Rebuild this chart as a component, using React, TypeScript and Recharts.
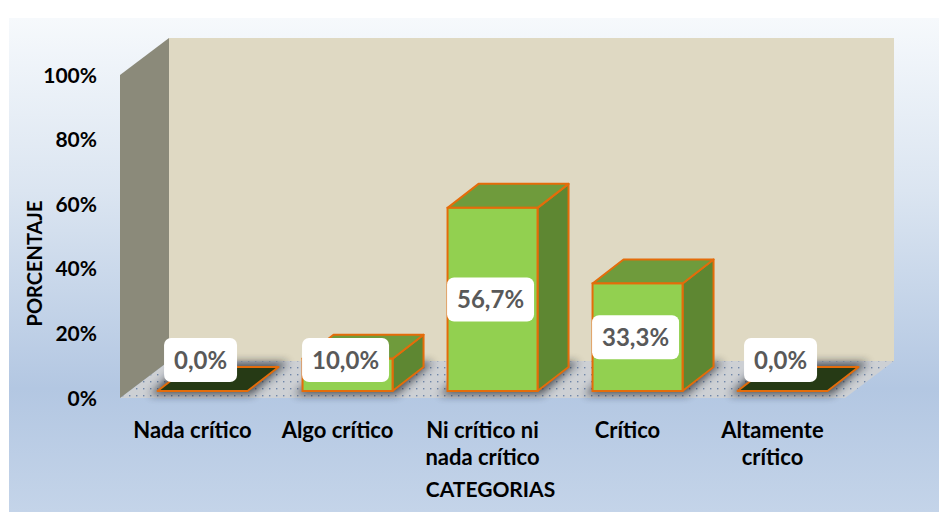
import React from 'react';
import { BarChart, Bar, XAxis, YAxis, ReferenceArea, LabelList } from 'recharts';

const categories = ['Nada crítico', 'Algo crítico', 'Ni crítico ni\nnada crítico', 'Crítico', 'Altamente\ncrítico'];
const percentages = [0, 10.0, 56.7, 33.3, 0];
const yTicks = [0, 20, 40, 60, 80, 100];

const rows = categories.map((name, i) => ({ name, value: percentages[i] }));

const FONT = 'Lato, "Open Sans", sans-serif';
// 3D look
const DX = 49; // depth of the room
const DY = 37;
const OX = 10; // bar front face sits a little behind the front plane
const OY = 7;
const BDX = 31; // bar depth
const BDY = 24;

const fmt = (v: number) => v.toFixed(1).replace('.', ',') + '%';

const Room = (props: any) => {
  const { x, y, width: w, height: h } = props;
  const floor = `${x},${y + h} ${x + w},${y + h} ${x + w + DX},${y + h - DY} ${x + DX},${y + h - DY}`;
  const left = `${x},${y} ${x + DX},${y - DY} ${x + DX},${y + h - DY} ${x},${y + h}`;
  return (
    <g>
      <defs>
        <pattern id="floorDots" width="7" height="7" patternUnits="userSpaceOnUse">
          <rect width="7" height="7" fill="#cdd0d4" />
          <rect x="3" y="3" width="1.4" height="1.4" fill="#6f86a8" />
        </pattern>
        <filter id="soft" x="-30%" y="-30%" width="160%" height="160%">
          <feGaussianBlur stdDeviation="4" />
        </filter>
      </defs>
      <rect x={x + DX} y={y - DY} width={w} height={h} fill="#dfd9c3" />
      <polygon points={floor} fill="url(#floorDots)" />
      <polygon points={left} fill="#8b8a7a" />
    </g>
  );
};

const Bar3D = (props: any) => {
  const { x, y, width: w, height: h } = props;
  const fx = x + OX;
  const fy = y - OY;
  const fh = Math.max(h, 0);
  const base = fy + fh;
  const stroke = '#e46c0a';
  const shadow = `${fx - 8},${base + 4} ${fx + w + 4},${base + 4} ${fx + w + BDX + 10},${base - BDY - 5} ${fx + BDX - 6},${base - BDY - 5}`;
  if (fh < 0.5) {
    const top = `${fx},${base} ${fx + w},${base} ${fx + w + BDX},${base - BDY} ${fx + BDX},${base - BDY}`;
    return (
      <g>
        <polygon points={shadow} fill="#1e232b" opacity={0.7} filter="url(#soft)" />
        <polygon points={top} fill="#263a15" stroke={stroke} strokeWidth={2} strokeLinejoin="round" />
      </g>
    );
  }
  const top = `${fx},${fy} ${fx + w},${fy} ${fx + w + BDX},${fy - BDY} ${fx + BDX},${fy - BDY}`;
  const side = `${fx + w},${fy} ${fx + w + BDX},${fy - BDY} ${fx + w + BDX},${base - BDY} ${fx + w},${base}`;
  return (
    <g>
      <polygon points={shadow} fill="#1e232b" opacity={0.7} filter="url(#soft)" />
      <polygon points={side} fill="#5e8732" stroke={stroke} strokeWidth={2} strokeLinejoin="round" />
      <polygon points={top} fill="#6f9b3c" stroke={stroke} strokeWidth={2} strokeLinejoin="round" />
      <rect x={fx} y={fy} width={w} height={fh} fill="#92d050" stroke={stroke} strokeWidth={2} />
    </g>
  );
};

const ValueBox = (props: any) => {
  const vb = props.viewBox || props;
  const { x, y, width: w, height: h } = vb;
  const text = fmt(Number(props.value));
  const fx = x + OX;
  const top = y - OY;
  const base = top + Math.max(h, 0);
  const cx = fx + w / 2 - 2;
  const cy = Math.min((top + base) / 2, base - 31);
  const bw = 14 * text.length + 17;
  const bh = 44;
  return (
    <g>
      <rect x={cx - bw / 2} y={cy - bh / 2} width={bw} height={bh} rx={7} fill="#ffffff" />
      <text x={cx} y={cy} dy="0.36em" textAnchor="middle" fontFamily={FONT} fontWeight={700} fontSize={24} fill="#595959">
        {text}
      </text>
    </g>
  );
};

const CategoryTick = (props: any) => {
  const { x, y, payload } = props;
  const lines = String(payload.value).split('\n');
  return (
    <g>
      {lines.map((line, i) => (
        <text key={i} x={x} y={y + 40 + i * 27} textAnchor="middle" fontFamily={FONT} fontWeight={700} fontSize={22} fill="#000">
          {line}
        </text>
      ))}
    </g>
  );
};

const PercentTick = (props: any) => {
  const { x, y, payload } = props;
  return (
    <text x={x} y={y} dy="0.36em" textAnchor="end" fontFamily={FONT} fontWeight={700} fontSize={21} fill="#000">
      {payload.value}%
    </text>
  );
};

const YTitle = (props: any) => {
  const { x, y, height } = props.viewBox;
  const cx = x + 35;
  const cy = y + height / 2 + 27;
  return (
    <text x={cx} y={cy} dy="0.36em" textAnchor="middle" transform={`rotate(-90 ${cx} ${cy})`} fontFamily={FONT} fontWeight={700} fontSize={20} fill="#000">
      PORCENTAJE
    </text>
  );
};

const XTitle = (props: any) => {
  const { x, y, width } = props.viewBox;
  return (
    <text x={x + width / 2 + 8} y={y + 99} textAnchor="middle" fontFamily={FONT} fontWeight={700} fontSize={21} fill="#000">
      CATEGORIAS
    </text>
  );
};

export default function App() {
  return (
    <div style={{ position: 'absolute', left: 0, top: 0, width: 939, height: 512, background: '#ffffff' }}>
      <div
        style={{
          position: 'absolute',
          left: 9,
          top: 18,
          right: 0,
          bottom: 0,
          background: 'linear-gradient(to bottom, #f6f9fc 0%, #dbe5f1 35%, #b3c7e2 75%, #c4d4e9 100%)',
        }}
      />
      <div style={{ position: 'absolute', left: 0, top: 0 }}>
        <BarChart width={939} height={512} data={rows} margin={{ top: 75, right: 94, bottom: 0, left: 0 }} barCategoryGap="19%">
          <XAxis
            dataKey="name"
            axisLine={false}
            tickLine={false}
            tickSize={0}
            tickMargin={0}
            interval={0}
            height={114}
            tick={<CategoryTick />}
            label={<XTitle />}
          />
          <YAxis
            domain={[0, 100]}
            ticks={yTicks}
            width={120}
            axisLine={false}
            tickLine={false}
            tickSize={0}
            tickMargin={23}
            tick={<PercentTick />}
            label={<YTitle />}
          />
          <ReferenceArea y1={0} y2={100} shape={<Room />} ifOverflow="visible" />
          <Bar dataKey="value" shape={<Bar3D />} isAnimationActive={false}>
            <LabelList dataKey="value" content={<ValueBox />} />
          </Bar>
        </BarChart>
      </div>
    </div>
  );
}
